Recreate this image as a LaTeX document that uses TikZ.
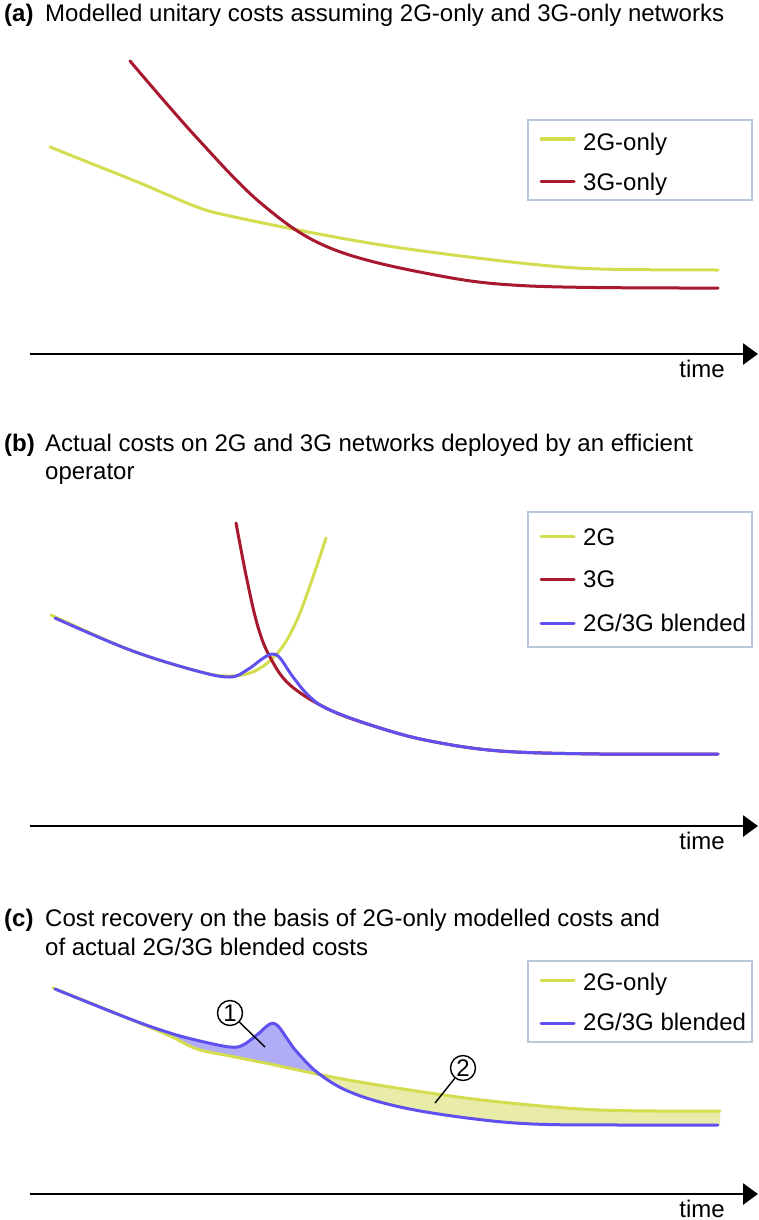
\documentclass[tikz,border=0pt]{standalone}
\usepackage{fontspec}
\setmainfont{Liberation Sans}
\usetikzlibrary{calc}
\usetikzlibrary{arrows.meta}

\definecolor{twoG}{HTML}{D4DC50}
\definecolor{threeG}{HTML}{A8182E}
\definecolor{blend}{HTML}{6050F0}
\definecolor{blendfill}{HTML}{B0ACF5}
\definecolor{twoGfill}{HTML}{E8ECA8}
\definecolor{legframe}{HTML}{B8C8D8}

\tikzset{
  txt/.style={font=\fontsize{24}{28}\selectfont, inner sep=0pt},
  curve/.style={line width=3pt, line cap=round, line join=round},
  axis/.style={line width=2.7pt, -{Triangle[length=15pt,width=21pt]}},
  legbox/.style={draw=legframe, line width=1.5pt},
  numcirc/.style={draw, circle, line width=1.4pt, minimum size=25pt, inner sep=0pt, font=\fontsize{24}{24}\selectfont}
}

\begin{document}
\begin{tikzpicture}[x=1pt, y=-1pt]
\useasboundingbox (0,0) rectangle (758,1220);

% (a)
\node (titleA) [txt, anchor=base west] at (4,22) {\makebox[41pt][l]{\textbf{(a)}}Modelled unitary costs assuming 2G-only and 3G-only networks};

\draw[curve, twoG] plot[smooth, tension=0.6] coordinates {(50,147) (90,163) (140,183) (197,207) (230,216) (293,229) (363,242) (430,252) (530,264) (600,269) (718,270)};
\draw[curve, threeG] plot[smooth, tension=0.6] coordinates {(130,61) (197,138) (263,205) (330,248) (430,274) (530,286) (718,288)};

\draw[legbox] (528,120) rectangle (752,200);
\draw[curve, twoG] (541,139) -- (574,139);
\node (legA1) [txt, anchor=base west] at (583,150) {2G-only};
\draw[curve, threeG] (541,181) -- (574,181);
\node (legA2) [txt, anchor=base west] at (583,190) {3G-only};

\coordinate (A0) at (30,354);
\coordinate (A1) at (758,354);
\draw[axis] (A0) -- (A1);
\node (timeA) [txt, anchor=base] at (702,377) {time};

% (b)
\node (titleB) [txt, anchor=base west] at (4,451) {\makebox[41pt][l]{\textbf{(b)}}Actual costs on 2G and 3G networks deployed by an efficient};
\node (titleB2) [txt, anchor=base west] at (45,479) {operator};

\draw[curve, twoG] plot[smooth, tension=0.6] coordinates {(51,615) (130,650) (197,671) (230,676) (257,670) (280,650) (297,620) (313,577) (326,538)};
\draw[curve, threeG] plot[smooth, tension=0.6] coordinates {(236,523) (247,580) (258,627) (270,657) (290,685) (330,710) (380,728) (430,741) (500,751) (600,754) (718,754)};
\draw[curve, blend] plot[smooth, tension=0.6] coordinates {(55,618) (130,650) (197,671) (230,677) (247,670) (262,659) (272,654) (280,658) (293,677) (310,697) (330,710) (380,728) (430,741) (500,751) (600,754) (718,754)};

\draw[legbox] (528,512) rectangle (752,647);
\draw[curve, twoG] (541,536) -- (574,536);
\node (legB1) [txt, anchor=base west] at (583,545) {2G};
\draw[curve, threeG] (541,579) -- (574,579);
\node (legB2) [txt, anchor=base west] at (583,587) {3G};
\draw[curve, blend] (541,623) -- (574,623);
\node (legB3) [txt, anchor=base west] at (583,631) {2G/3G blended};

\coordinate (B0) at (30,826);
\coordinate (B1) at (758,826);
\draw[axis] (B0) -- (B1);
\node (timeB) [txt, anchor=base] at (702,849) {time};

% (c)
\node (titleC) [txt, anchor=base west] at (4,926) {\makebox[41pt][l]{\textbf{(c)}}Cost recovery on the basis of 2G-only modelled costs and};
\node (titleC2) [txt, anchor=base west] at (45,955) {of actual 2G/3G blended costs};

\fill[blendfill] plot[smooth, tension=0.6] coordinates {(130,1019) (170,1033) (200,1041) (230,1047) (243,1045) (258,1034) (270,1024) (278,1026) (288,1040) (297,1052) (318,1073)} -- plot[smooth, tension=0.6] coordinates {(318,1073) (270,1064) (230,1056) (197,1049) (170,1036) (130,1019)} -- cycle;
\fill[twoGfill] plot[smooth, tension=0.6] coordinates {(318,1073) (350,1092) (400,1107) (467,1118) (533,1124) (620,1125) (720,1125)} -- (720,1111) -- plot[smooth, tension=0.6] coordinates {(720,1111) (600,1110) (500,1102) (430,1093) (360,1082) (318,1074)} -- cycle;

\draw[curve, twoG] plot[smooth, tension=0.6] coordinates {(53,988) (130,1019) (170,1036) (197,1049) (230,1056) (270,1064) (317,1074) (360,1082) (430,1093) (500,1102) (600,1110) (720,1111)};
\draw[curve, blend] plot[smooth, tension=0.6] coordinates {(55,989) (130,1019) (170,1033) (200,1041) (230,1047) (243,1045) (258,1034) (270,1024) (278,1026) (288,1040) (297,1052) (318,1073) (350,1092) (400,1107) (467,1118) (533,1124) (620,1125) (718,1125)};

\node (one) [numcirc] at (230,1013) {1};
\coordinate (oneEnd) at (265,1047);
\draw[line width=1.4pt] (one) -- (oneEnd);
\node (two) [numcirc] at (463,1068) {2};
\coordinate (twoEnd) at (435,1103);
\draw[line width=1.4pt] (two) -- (twoEnd);

\draw[legbox] (528,961) rectangle (752,1042);
\draw[curve, twoG] (541,980) -- (574,980);
\node (legC1) [txt, anchor=base west] at (583,990) {2G-only};
\draw[curve, blend] (541,1023) -- (574,1023);
\node (legC2) [txt, anchor=base west] at (583,1030) {2G/3G blended};

\coordinate (C0) at (30,1194);
\coordinate (C1) at (758,1194);
\draw[axis] (C0) -- (C1);
\node (timeC) [txt, anchor=base] at (702,1217) {time};

\end{tikzpicture}
\end{document}
